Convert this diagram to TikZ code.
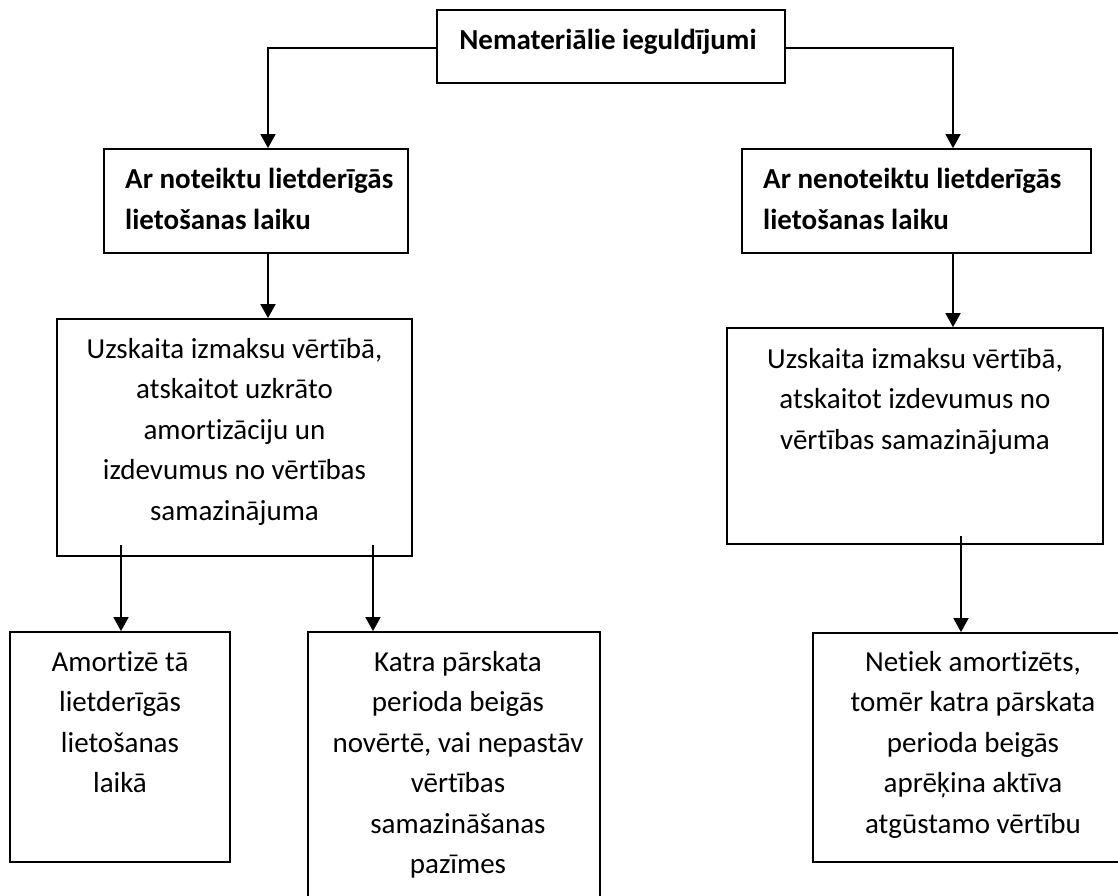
\documentclass[tikz,border=0pt]{standalone}
\usepackage{fontspec}
\setmainfont{Carlito}[Ligatures=NoCommon]
\usetikzlibrary{arrows.meta,fit}
\begin{document}
\begin{tikzpicture}[x=1pt,y=-1pt,
  box/.style={draw, line width=1.8pt, inner sep=0pt},
  txt/.style={inner sep=0pt, font=\fontsize{29}{40.5}\selectfont, align=center},
  btxt/.style={inner sep=0pt, font=\bfseries\fontsize{29}{40.5}\selectfont, align=left},
  arr/.style={line width=1.8pt, -{Triangle[length=14pt,width=15pt]}}]
\useasboundingbox (0,0) rectangle (1118,896);
\clip (0,0) rectangle (1118,896);

% boxes
\node[box, fit={(437,10)(785,83)}] (top) {};
\node[box, fit={(104,149)(408,253)}] (l2) {};
\node[box, fit={(742,149)(1091,253)}] (r2) {};
\node[box, fit={(57,319)(412,556)}] (l3) {};
\node[box, fit={(727,328)(1103,544)}] (r3) {};
\node[box, fit={(10,632)(230,862)}] (l4a) {};
\node[box, fit={(308,632)(600,930)}] (l4b) {};
\node[box, fit={(813,633)(1140,862)}] (r4) {};

% texts
\node[btxt, anchor=north] (ttop) at (608,29) {Nemateriālie ieguldījumi};
\node[btxt, anchor=north west] (tl2) at (125,168) {Ar noteiktu lietderīgās\\lietošanas laiku};
\node[btxt, anchor=north west] (tr2) at (763,168) {Ar nenoteiktu lietderīgās\\lietošanas laiku};
\node[txt, anchor=north] (tl3) at (234.5,338) {Uzskaita izmaksu vērtībā,\\atskaitot uzkrāto\\amortizāciju un\\izdevumus no vērtības\\samazinājuma};
\node[txt, anchor=north] (tr3) at (915,348) {Uzskaita izmaksu vērtībā,\\atskaitot izdevumus no\\vērtības samazinājuma};
\node[txt, anchor=north] (tl4a) at (120,651) {Amortizē tā\\lietderīgās\\lietošanas\\laikā};
\node[txt, anchor=north] (tl4b) at (458,651) {Katra pārskata\\perioda beigās\\novērtē, vai nepastāv\\vērtības\\samazināšanas\\pazīmes};
\node[txt, anchor=north] (tr4) at (973,651) {Netiek amortizēts,\\tomēr katra pārskata\\perioda beigās\\aprēķina aktīva\\atgūstamo vērtību};

% connectors
\coordinate (cL) at (268,48);
\coordinate (cR) at (953,48);
\coordinate (d1) at (121,545);
\coordinate (d2) at (373,545);
\coordinate (d3) at (961,536);
\draw[arr] (top.west |- cL) -- (cL) -- (cL |- l2.north);
\draw[arr] (top.east |- cR) -- (cR) -- (cR |- r2.north);
\draw[arr] (cL |- l2.south) -- (cL |- l3.north);
\draw[arr] (cR |- r2.south) -- (cR |- r3.north);
\draw[arr] (d1) -- (d1 |- l4a.north);
\draw[arr] (d2) -- (d2 |- l4b.north);
\draw[arr] (d3) -- (d3 |- r4.north);
\end{tikzpicture}
\end{document}
